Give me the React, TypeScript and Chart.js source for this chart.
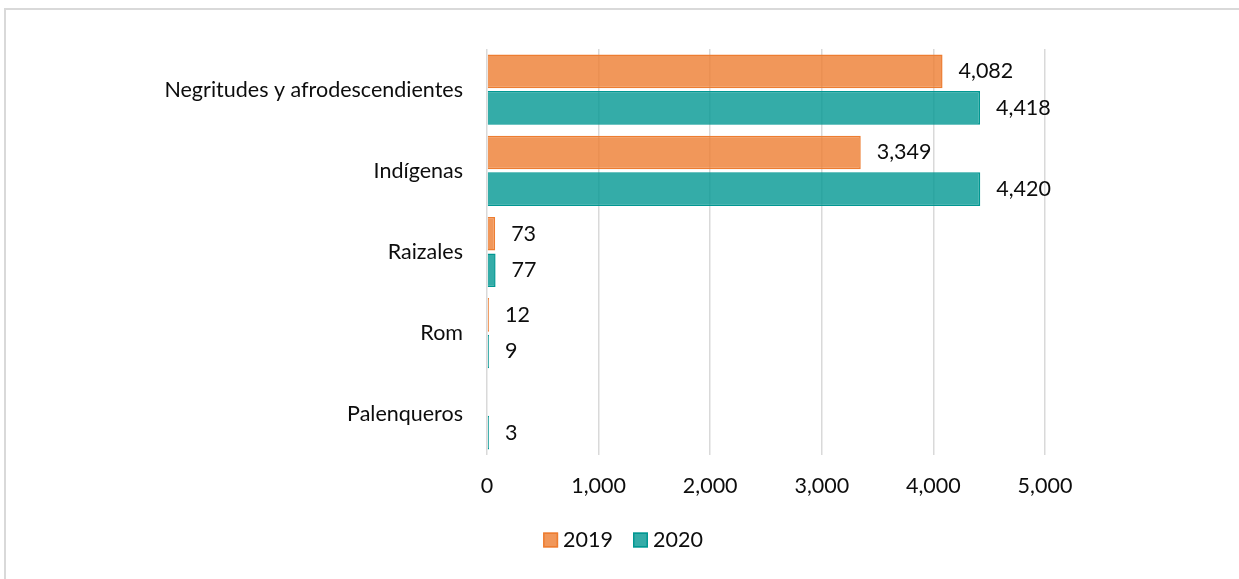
import React, { useEffect, useRef } from "react";
import { Chart, registerables } from "chart.js";

Chart.register(...registerables);

const categories = [
  "Negritudes y afrodescendientes",
  "Indígenas",
  "Raizales",
  "Rom",
  "Palenqueros",
];
const seriesNames = ["2019", "2020"];
const values2019: (number | null)[] = [4082, 3349, 73, 12, null];
const values2020: (number | null)[] = [4418, 4420, 77, 9, 3];
const xTicks = [0, 1000, 2000, 3000, 4000, 5000];

const FONT_FAMILY = "Lato, 'Open Sans', sans-serif";
const FONT_SIZE = 21.5;
const TEXT_COLOR = "#0d0d0d";

const valueLabelPlugin = {
  id: "valueLabels",
  afterDatasetsDraw(chart: any) {
    const ctx = chart.ctx;
    ctx.save();
    ctx.font = `${FONT_SIZE}px ${FONT_FAMILY}`;
    ctx.fillStyle = TEXT_COLOR;
    ctx.textAlign = "left";
    ctx.textBaseline = "middle";
    chart.data.datasets.forEach((ds: any, i: number) => {
      const meta = chart.getDatasetMeta(i);
      meta.data.forEach((el: any, j: number) => {
        const v = ds.data[j];
        if (v === null || v === undefined) return;
        ctx.fillText(Number(v).toLocaleString("en-US"), el.x + 16, el.y);
      });
    });
    ctx.restore();
  },
};

const legendPlugin = {
  id: "customLegend",
  afterDraw(chart: any) {
    const ctx = chart.ctx;
    ctx.save();
    ctx.font = `${FONT_SIZE}px ${FONT_FAMILY}`;
    const box = 15;
    const gap = 5;
    const spacing = 20;
    const items = chart.data.datasets.map((ds: any) => ({
      label: ds.label,
      bg: ds.backgroundColor,
      border: ds.borderColor,
      w: box + gap + ctx.measureText(ds.label).width,
    }));
    const total =
      items.reduce((s: number, it: any) => s + it.w, 0) +
      spacing * (items.length - 1);
    let x = 623 - total / 2;
    const cy = 540;
    items.forEach((it: any) => {
      ctx.fillStyle = "#ffffff";
      ctx.fillRect(x, cy - box / 2, box, box);
      ctx.fillStyle = it.bg;
      ctx.fillRect(x, cy - box / 2, box, box);
      ctx.strokeStyle = it.border;
      ctx.lineWidth = 1.5;
      ctx.strokeRect(x + 0.75, cy - box / 2 + 0.75, box - 1.5, box - 1.5);
      ctx.fillStyle = TEXT_COLOR;
      ctx.textAlign = "left";
      ctx.textBaseline = "middle";
      ctx.fillText(it.label, x + box + gap, cy);
      x += it.w + spacing;
    });
    ctx.restore();
  },
};

export default function App() {
  const canvasRef = useRef<HTMLCanvasElement | null>(null);

  useEffect(() => {
    if (!canvasRef.current) return;
    const chart = new Chart(canvasRef.current, {
      type: "bar",
      data: {
        labels: categories,
        datasets: [
          {
            label: seriesNames[0],
            data: values2019,
            backgroundColor: "rgba(237,125,49,0.8)",
            borderColor: "#ED7D31",
            borderWidth: 1.5,
            minBarLength: 2,
            categoryPercentage: 0.9,
            barPercentage: 0.92,
          },
          {
            label: seriesNames[1],
            data: values2020,
            backgroundColor: "rgba(1,151,146,0.8)",
            borderColor: "rgb(1,151,146)",
            borderWidth: 1.5,
            minBarLength: 2,
            categoryPercentage: 0.9,
            barPercentage: 0.92,
          },
        ],
      },
      options: {
        indexAxis: "y",
        responsive: false,
        animation: false,
        devicePixelRatio: 1,
        layout: { padding: { left: 0, top: 49, right: 194, bottom: 64 } },
        plugins: {
          legend: { display: false },
          tooltip: { enabled: false },
        },
        scales: {
          x: {
            min: 0,
            max: 5000,
            afterBuildTicks: (scale: any) => {
              scale.ticks = xTicks.map((v) => ({ value: v }));
            },
            afterFit: (scale: any) => {
              scale.height = 60;
            },
            grid: {
              color: "#d9d9d9",
              lineWidth: 1.5,
              drawTicks: false,
            },
            border: { display: false },
            ticks: {
              padding: 18,
              color: TEXT_COLOR,
              font: { family: FONT_FAMILY, size: FONT_SIZE },
              callback: (v: any) => Number(v).toLocaleString("en-US"),
            },
          },
          y: {
            afterFit: (scale: any) => {
              scale.width = 487;
            },
            grid: { display: false, drawTicks: false },
            border: { display: false },
            ticks: {
              padding: 24,
              color: TEXT_COLOR,
              font: { family: FONT_FAMILY, size: FONT_SIZE },
            },
          },
        },
      },
      plugins: [valueLabelPlugin, legendPlugin],
    } as any);
    return () => chart.destroy();
  }, []);

  return (
    <div
      style={{
        position: "fixed",
        left: 0,
        top: 0,
        width: 1239,
        height: 579,
        background: "#ffffff",
      }}
    >
      <div
        style={{
          position: "absolute",
          left: 4,
          top: 8,
          right: -10,
          bottom: -10,
          borderLeft: "2px solid #d9d9d9",
          borderTop: "2px solid #d9d9d9",
        }}
      />
      <canvas
        ref={canvasRef}
        width={1239}
        height={579}
        style={{ position: "absolute", left: 0, top: 0, width: 1239, height: 579 }}
      />
    </div>
  );
}
